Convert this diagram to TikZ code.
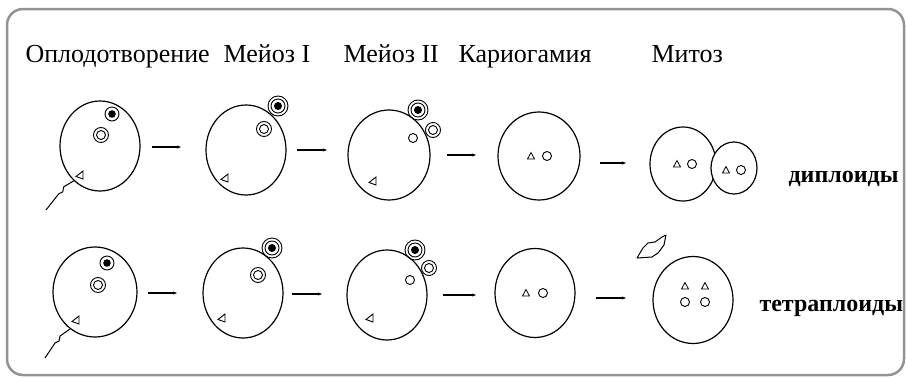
\documentclass[tikz,border=0pt]{standalone}
\usepackage{fontspec}
\setmainfont{Liberation Serif}
\usetikzlibrary{shapes.geometric,arrows.meta}

\tikzset{
    cell/.style={draw, ellipse, line width=1.2pt, inner sep=0pt, fill=white},
    stage/.style={anchor=base west, font=\fontsize{26}{29}\selectfont},
    ploidy/.style={anchor=base west, font=\bfseries\fontsize{24}{27}\selectfont},
    arr/.style={line width=1.4pt, -{Stealth[length=4pt,width=3pt]}},
    pics/nuc/.style={code={\draw[line width=0.9pt] (0,0) circle (7pt); \fill (0,0) circle (3.8pt);}},
    pics/polar/.style={code={\draw[line width=0.9pt] (0,0) circle (10pt) (0,0) circle (7pt); \fill (0,0) circle (4pt);}},
    pics/ring/.style={code={\draw[line width=0.9pt] (0,0) circle (7.5pt) (0,0) circle (4.5pt);}},
    pics/ltri/.style={code={\draw[line width=0.9pt] (-4,1.5) -- (3,-4) -- (3,4) -- cycle;}},
    pics/utri/.style={code={\draw[line width=0.8pt] (-3.5,3) -- (3.5,3) -- (0,-3.5) -- cycle;}},
    pics/dot/.style={code={\draw[line width=0.9pt] (0,0) circle (4.5pt);}}
}

\begin{document}
\begin{tikzpicture}[x=1pt, y=-1pt]
    \useasboundingbox (0,0) rectangle (906,378);
    \draw[gray!85, line width=2.5pt, rounded corners=16pt] (7,9) rectangle (904,375);

    % stage titles
    \node[stage] (tfert) at (22,62) {Оплодотворение};
    \node[stage] (tmei) at (220,62) {Мейоз I};
    \node[stage] (tmeii) at (340,62) {Мейоз II};
    \node[stage] (tkar) at (455,62) {Кариогамия};
    \node[stage] (tmit) at (648,62) {Митоз};

    % upper row
    \node[cell, minimum width=80pt, minimum height=90pt] (fert1) at (100,146) {};
    \draw[line width=1pt] (fert1.233) -- ++(-10,6) -- ++(-1,5) -- ++(-4,2) -- (46,210);
    \pic at (112,114) {nuc};
    \pic at (101,135) {ring};
    \pic at (80,175) {ltri};

    \node[cell, minimum width=80pt, minimum height=90pt] (mei1) at (246,150) {};
    \pic at (278,106) {polar};
    \pic at (264,129) {ring};
    \pic at (225,178) {ltri};

    \node[cell, minimum width=82pt, minimum height=90pt] (meii1) at (389,155) {};
    \pic at (418,110) {polar};
    \pic at (433,130) {ring};
    \pic at (413,138) {dot};
    \pic at (373,181) {ltri};

    \node[cell, minimum width=82pt, minimum height=88pt] (kar1) at (539,156) {};
    \pic at (531,156) {utri};
    \pic at (547,156) {dot};

    \node[cell, minimum width=66pt, minimum height=74pt] (mit1) at (683,164) {};
    \node[cell, minimum width=46pt, minimum height=52pt] (mitb1) at (734,168) {};
    \pic at (677,164) {utri};
    \pic at (692,164) {dot};
    \pic at (726,170) {utri};
    \pic at (741,170) {dot};

    \draw[arr] (152,147) -- (181,147);
    \draw[arr] (297,150) -- (327,150);
    \draw[arr] (447,155) -- (476,155);
    \draw[arr] (600,163) -- (626,163);

    \node[ploidy] (dipl) at (785,182) {диплоиды};

    % lower row
    \node[cell, minimum width=84pt, minimum height=90pt] (fert2) at (95,292) {};
    \draw[line width=1pt] (fert2.236) -- ++(-10,7) -- ++(-1,5) -- ++(-4,2) -- (45,358);
    \pic at (107,263) {nuc};
    \pic at (98,285) {ring};
    \pic at (76,320) {ltri};

    \node[cell, minimum width=80pt, minimum height=90pt] (mei2) at (243,293) {};
    \pic at (272,248) {polar};
    \pic at (258,275) {ring};
    \pic at (222,318) {ltri};

    \node[cell, minimum width=80pt, minimum height=90pt] (meii2) at (387,295) {};
    \pic at (415,250) {polar};
    \pic at (429,268) {ring};
    \pic at (410,280) {dot};
    \pic at (370,318) {ltri};

    \node[cell, minimum width=80pt, minimum height=89pt] (kar2) at (535,293) {};
    \pic at (526,293) {utri};
    \pic at (543,293) {dot};

    \node[cell, minimum width=80pt, minimum height=87pt] (mit2) at (693,300) {};
    \pic at (685,286) {utri};
    \pic at (705,286) {utri};
    \pic at (685,302) {dot};
    \pic at (705,302) {dot};
    % hollow pointer above the tetraploid cell
    \draw[line width=1pt, line join=round] (637,258) -- (643,248) -- (648,243) -- (655,242) -- (662,237)
        -- (666,235) -- (664,245) -- (658,253) -- (652,257) -- cycle;

    \draw[arr] (148,293) -- (177,293);
    \draw[arr] (292,294) -- (322,294);
    \draw[arr] (443,295) -- (476,295);
    \draw[arr] (596,298) -- (626,298);

    \node[ploidy] (tetra) at (756,311) {тетраплоиды};
\end{tikzpicture}
\end{document}
